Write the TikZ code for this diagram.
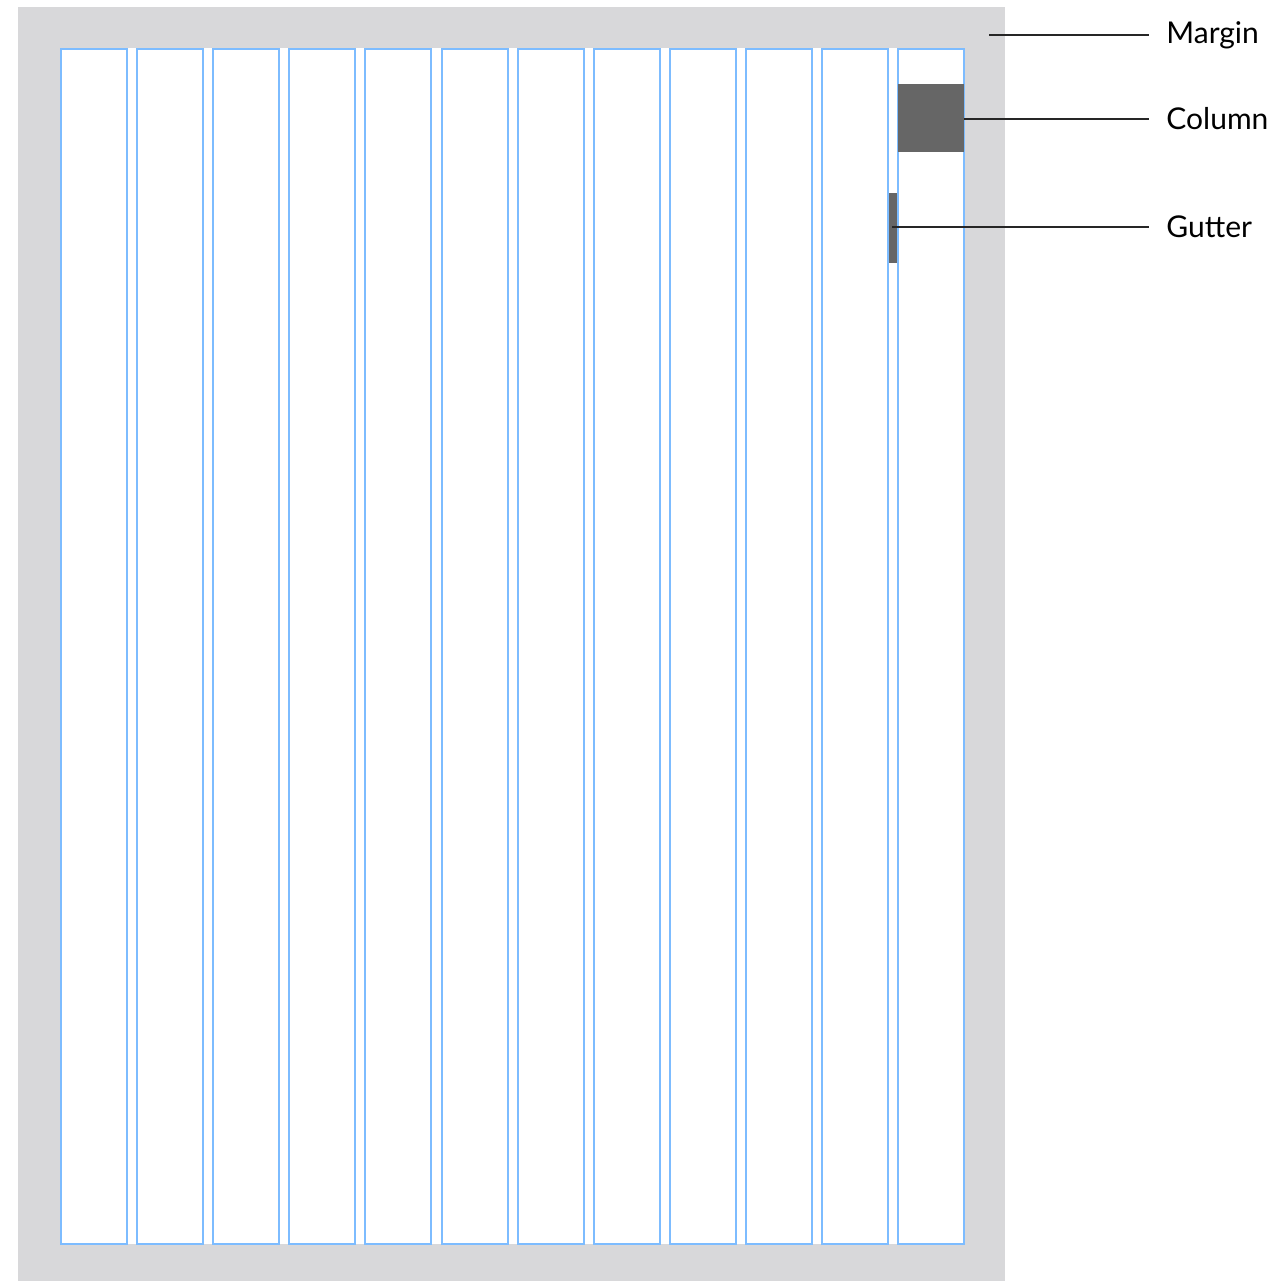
\documentclass[tikz,border=0pt]{standalone}
\usepackage{fontspec}
\setmainfont{Lato}
\usepackage{xcolor}
\usepackage{tikz}

\definecolor{pagegray}{HTML}{D8D8DA}
\definecolor{gridblue}{HTML}{7DBCFF}
\definecolor{blockgray}{HTML}{666666}

\tikzset{
  colline/.style={draw=gridblue,line width=1pt},
  leader/.style={draw=black!85,line width=0.7pt},
  darkbox/.style={fill=blockgray,inner sep=0pt,outer sep=0pt},
  tag/.style={anchor=west,inner sep=8.5pt,font=\fontsize{15}{18}\selectfont}
}

\begin{document}
\begin{tikzpicture}[x=0.5pt,y=-0.5pt]
\useasboundingbox (0,0) rectangle (1281,1281);

% page and margin
\fill[pagegray] (18,7) rectangle (1005,1281);
\fill[white] (60,48) rectangle (964,1244);

% twelve columns
\foreach \i in {0,...,11}
  \draw[colline] (61+76.1*\i,49) rectangle ++(66,1195);

% highlighted column and gutter
\node[darkbox,minimum width=33pt,minimum height=34pt,anchor=north west] (colblock) at (898,84) {};
\node[darkbox,minimum width=4pt,minimum height=35pt,anchor=north west] (gutblock) at (889,193) {};

% labels
\node[tag] (margin) at (1149,35) {Margin};
\node[tag] (column) at (1149,119) {Column};
\node[tag] (gutter) at (1149,227) {Gutter};

\coordinate (mstart) at (989,35);
\coordinate (gstart) at (892,227);

\draw[leader] (mstart) -- (margin.west);
\draw[leader] (colblock.east |- column.west) -- (column.west);
\draw[leader] (gstart) -- (gutter.west);
\end{tikzpicture}
\end{document}
